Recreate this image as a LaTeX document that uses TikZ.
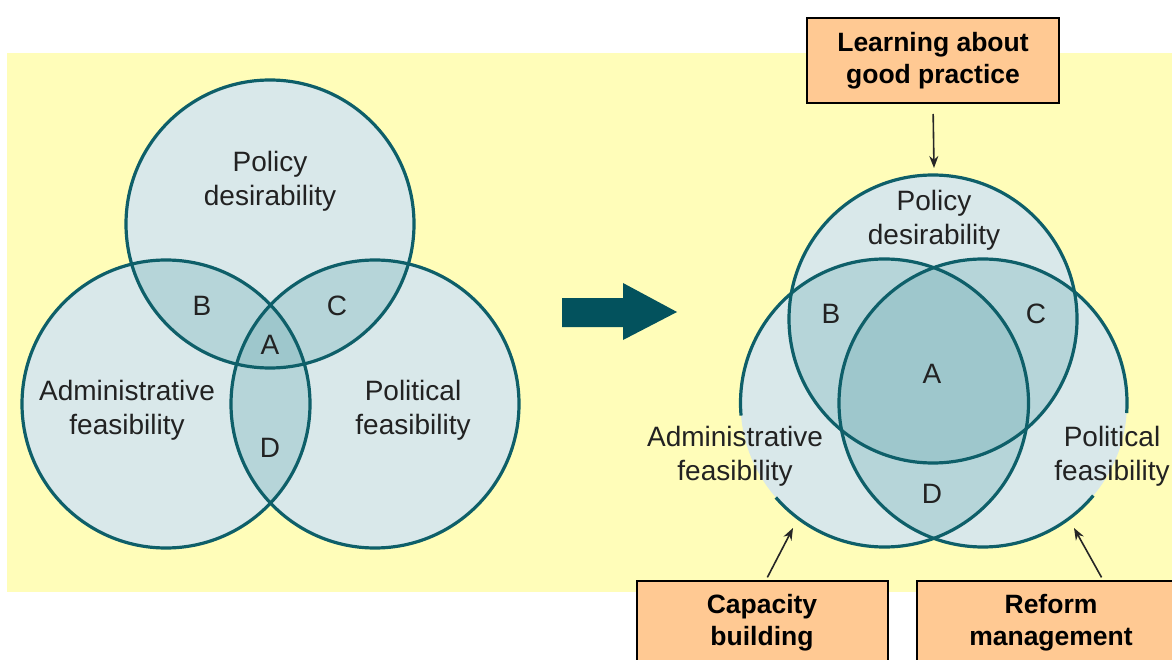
\documentclass[tikz,border=0pt]{standalone}
\usepackage{fontspec}
\setmainfont{Liberation Sans}
\usetikzlibrary{arrows.meta,positioning,calc}

\definecolor{bgyellow}{HTML}{FFFDB9}
\definecolor{vennlight}{HTML}{D9E8EA}
\definecolor{vennmid}{HTML}{B6D5D9}
\definecolor{venndark}{HTML}{9EC7CC}
\definecolor{venteal}{HTML}{0E5F69}
\definecolor{arrowteal}{HTML}{03525D}
\definecolor{boxpeach}{HTML}{FFC993}
\definecolor{textgray}{HTML}{222222}

\begin{document}
\begin{tikzpicture}[x=1pt,y=-1pt,>={Stealth[length=12pt,width=9pt]},
  venn line/.style={draw=venteal,line width=3.2pt},
  label node/.style={font=\fontsize{28}{34}\selectfont,text=textgray,align=center},
  box node/.style={draw=black,line width=2pt,fill=boxpeach,align=center,
    font=\fontsize{26.5}{32}\bfseries\selectfont,inner sep=0pt},
  pointer/.style={->,line width=1.6pt,draw=black!85}]

  \useasboundingbox (0,0) rectangle (1172,660);
  \fill[bgyellow] (7,53) rectangle (1172,592);

  % circle centres
  \coordinate (T1) at (270,224);
  \coordinate (L1) at (166,404);
  \coordinate (R1) at (375,404);
  \coordinate (T2) at (933,319);
  \coordinate (L2) at (884.5,403);
  \coordinate (R2) at (983,403);

  % fills
  \foreach \c in {T1,L1,R1,T2,L2,R2}
    \fill[vennlight] (\c) circle (144pt);
  \foreach \t/\l/\r in {T1/L1/R1,T2/L2/R2} {
    \begin{scope}
      \clip (\t) circle (144pt);
      \fill[vennmid] (\l) circle (144pt);
      \fill[vennmid] (\r) circle (144pt);
    \end{scope}
    \begin{scope}
      \clip (\l) circle (144pt);
      \fill[vennmid] (\r) circle (144pt);
    \end{scope}
    \begin{scope}
      \clip (\t) circle (144pt);
      \clip (\l) circle (144pt);
      \fill[venndark] (\r) circle (144pt);
    \end{scope}
  }

  % outlines
  \foreach \c in {T1,L1,R1,T2}
    \draw[venn line] (\c) circle (144pt);
  \draw[venn line] ($(L2)+(221:144pt)$) arc[start angle=221,end angle=545,radius=144pt];
  \draw[venn line] ($(R2)+(-4:144pt)$) arc[start angle=-4,end angle=320,radius=144pt];

  % left diagram labels
  \node[label node] (pol1) at (270,181) {Policy\\desirability};
  \node[label node] (adm1) at (127,410) {Administrative\\feasibility};
  \node[label node] (pof1) at (413,410) {Political\\feasibility};
  \node[label node] (b1) at (202,306) {B};
  \node[label node] (c1) at (337,306) {C};
  \node[label node] (a1) at (270,345) {A};
  \node[label node] (d1) at (270,448) {D};

  % big arrow
  \fill[arrowteal] (562,298) -- (623,298) -- (623,283) -- (677,312)
    -- (623,340) -- (623,327) -- (562,327) -- cycle;

  % right diagram labels
  \node[label node] (pol2) at (934,220) {Policy\\desirability};
  \node[label node] (adm2) at (735,456) {Administrative\\feasibility};
  \node[label node] (pof2) at (1112,456) {Political\\feasibility};
  \node[label node] (b2) at (831,314) {B};
  \node[label node] (c2) at (1036,314) {C};
  \node[label node] (a2) at (932,374) {A};
  \node[label node] (d2) at (932,494) {D};

  % boxes
  \node[box node,minimum width=252pt,minimum height=85pt] (learn) at (933,60.5)
    {Learning about\\good practice};
  \node[box node,minimum width=251pt,minimum height=84pt,anchor=north] (capacity) at (762,580)
    {Capacity\\building};
  \node[box node,minimum width=268pt,minimum height=84pt,anchor=north] (reform) at (1051,580)
    {Reform\\management};

  % pointers
  \coordinate (pol in) at (934,168);
  \coordinate (adm in) at (793,528);
  \coordinate (pof in) at (1074,528);
  \draw[pointer,shorten <=10pt] (learn.south) -- (pol in);
  \draw[pointer,shorten <=3pt] ([xshift=4pt]capacity.north) -- (adm in);
  \draw[pointer,shorten <=3pt] ([xshift=52pt]reform.north) -- (pof in);
\end{tikzpicture}
\end{document}
